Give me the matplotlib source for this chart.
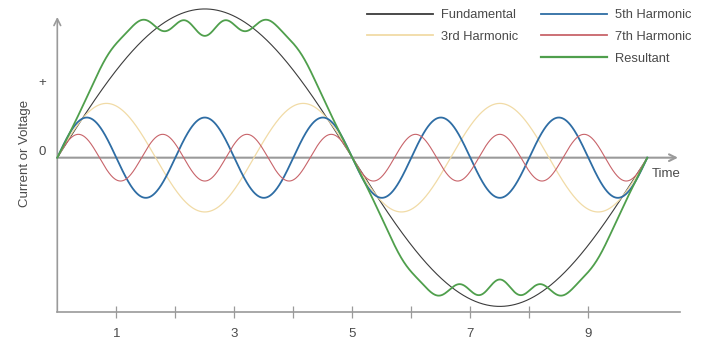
import numpy as np
import matplotlib
matplotlib.use('Agg')
import matplotlib.pyplot as plt
from matplotlib.lines import Line2D

plt.rcParams['font.family'] = ['Liberation Sans', 'DejaVu Sans']

# harmonic order and peak amplitude (fundamental = 1)
names = ['Fundamental', '3rd Harmonic', '5th Harmonic', '7th Harmonic']
orders = [1, 3, 5, 7]
amps = [1.0, 0.365, 0.27, 0.157]
colors = ['#3c3c3c', '#f1dba6', '#2e6da4', '#c8646a']
widths = [0.8, 0.9, 1.3, 0.8]

# resultant drawn as its own set of odd harmonics (flat top with ripple)
res_orders = [1, 3, 5, 7, 11, 13, 15, 17]
res_amps = [1.0340, 0.1575, -0.0239, -0.0202, 0.0067, -0.0202, 0.0202, -0.0067]
res_color = '#4f9f4c'

period = 10.0
x_ticks = [1, 2, 3, 4, 5, 6, 7, 8, 9]
x_labels = ['1', '', '3', '', '5', '', '7', '', '9']

axis_col = '#9a9a9a'
text_col = '#4a4a4a'

fig = plt.figure(figsize=(7.11, 3.51), dpi=100)
ax = fig.add_axes([0.0806, 0.1111, 0.8758, 0.8405])
ax.set_xlim(0, 10.554)
ax.set_ylim(-1.0377, 0.946)

x = np.linspace(0, period, 2000)
w = 2 * np.pi / period

lines = {}
for name, n, a, c, lw in zip(names, orders, amps, colors, widths):
    y = a * np.sin(n * w * x)
    ax.plot(x, y, color=c, lw=lw, clip_on=False, zorder=3)
    # thicker copy for the legend
    lines[name] = Line2D([], [], color=c, lw=1.3)

res = np.zeros_like(x)
for n, a in zip(res_orders, res_amps):
    res += a * np.sin(n * w * x)
ax.plot(x, res, color=res_color, lw=1.3, clip_on=False, zorder=4)
res_handle = Line2D([], [], color=res_color, lw=1.6)

# axes look
for s in ['top', 'right', 'left']:
    ax.spines[s].set_visible(False)
ax.spines['bottom'].set_color(axis_col)
ax.spines['bottom'].set_linewidth(1.2)
ax.set_xticks(x_ticks)
ax.set_xticklabels(x_labels)
ax.tick_params(axis='x', direction='inout', length=9, width=0.9, colors=axis_col,
               labelcolor=text_col, labelsize=9.5, pad=7)
ax.set_yticks([])

# vertical axis with arrow
ax.annotate('', xy=(0, 1.0), xytext=(0, 0), xycoords='axes fraction',
            arrowprops=dict(arrowstyle='->', color=axis_col, lw=1.2,
                            mutation_scale=12, shrinkA=0, shrinkB=0))
# zero line with arrow
ax.annotate('', xy=(10.52, 0), xytext=(0, 0),
            arrowprops=dict(arrowstyle='->', color=axis_col, lw=1.5,
                            mutation_scale=12, shrinkA=0, shrinkB=0), zorder=2)

ax.text(10.32, -0.11, 'Time', fontsize=9.5, color=text_col, ha='center', va='center')
ax.text(-0.26, 0.04, '0', fontsize=9.5, color=text_col, ha='center', va='center')
ax.text(-0.26, 0.5, '+', fontsize=9.5, color=text_col, ha='center', va='center')
ax.text(-0.55, 0.03, 'Current or Voltage', fontsize=9.5, color=text_col,
        rotation=90, ha='center', va='center')

blank = Line2D([], [], color='none')
handles = [lines['Fundamental'], lines['3rd Harmonic'], blank,
           lines['5th Harmonic'], lines['7th Harmonic'], res_handle]
labels = ['Fundamental', '3rd Harmonic', '', '5th Harmonic', '7th Harmonic', 'Resultant']
leg = ax.legend(handles, labels, ncol=2, loc='upper left', bbox_to_anchor=(0.497, 1.027),
                frameon=False, fontsize=9.3, handlelength=5.15, handletextpad=0.6,
                columnspacing=1.75, labelspacing=0.75, borderpad=0, borderaxespad=0)
for t in leg.get_texts():
    t.set_color(text_col)

fig.savefig('out.png', dpi=100)
